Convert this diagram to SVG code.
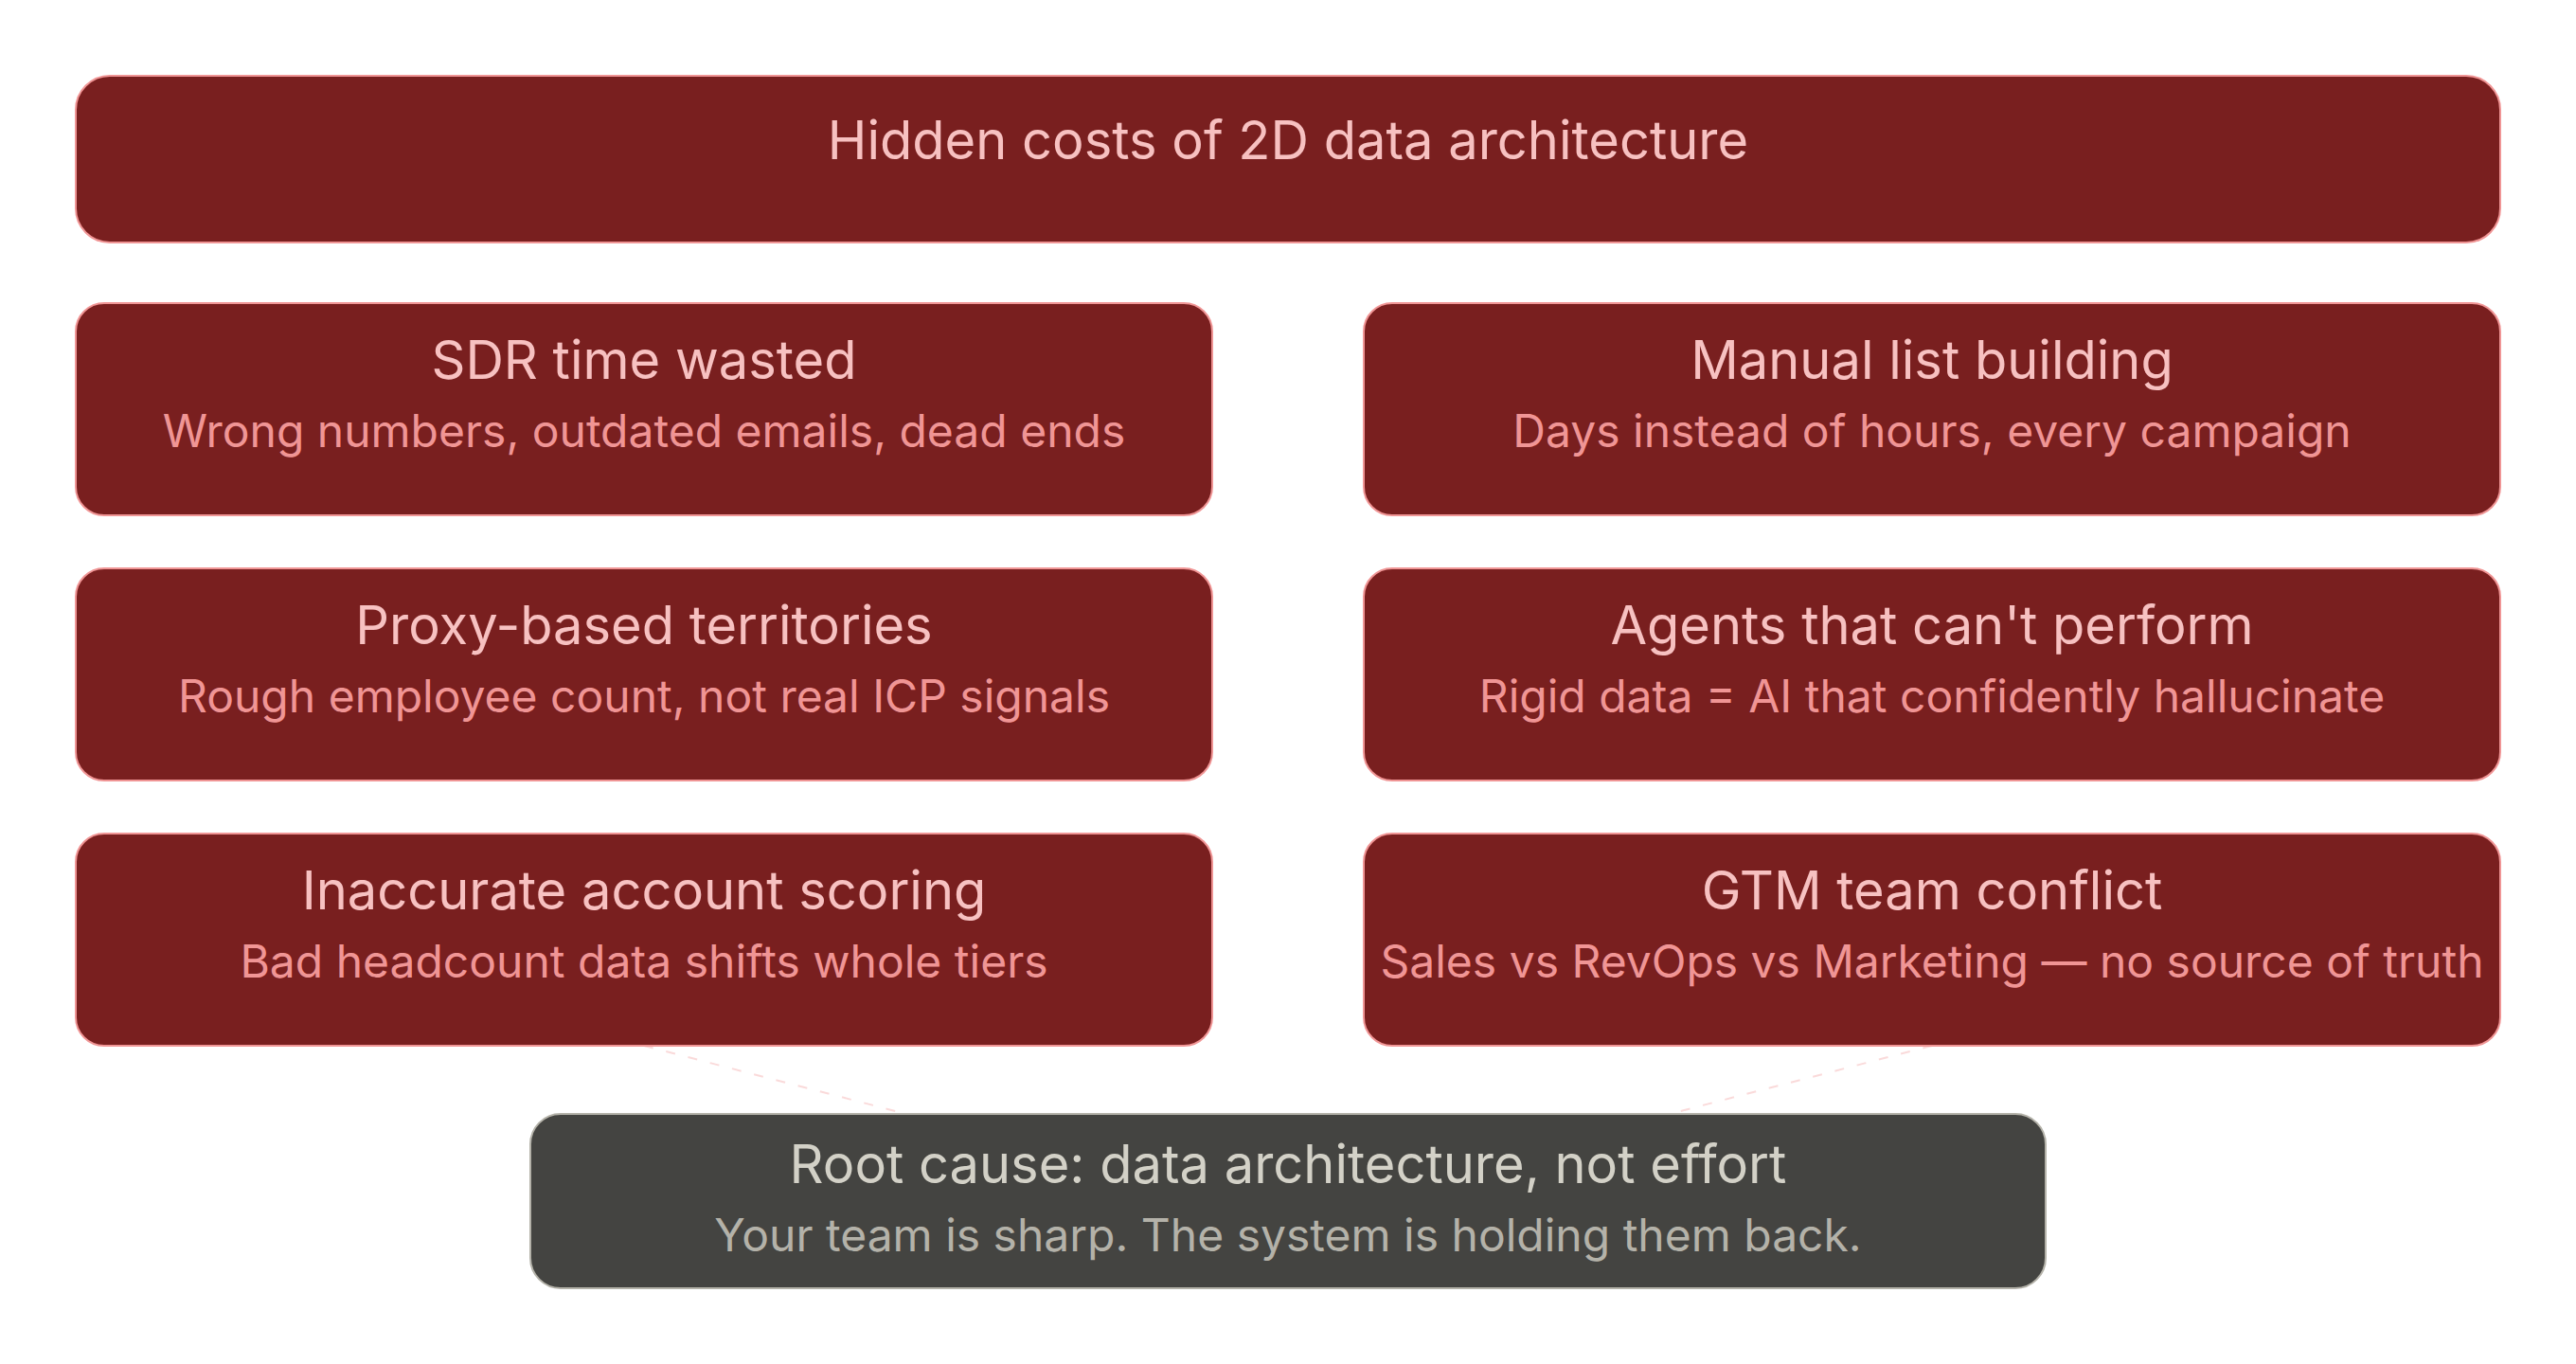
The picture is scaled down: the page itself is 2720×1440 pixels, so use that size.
<svg xmlns="http://www.w3.org/2000/svg" width="2720" height="1440" viewBox="0 0 2720 1440">
<style>
.bg{fill:#ffffff}
.red rect{fill:#791F1F;stroke:#F09595;stroke-width:2}
.gray rect{fill:#444441;stroke:#B4B2A9;stroke-width:2}
text{font-family:Inter,"Noto Sans","Liberation Sans",sans-serif;text-anchor:middle}
.red .t{fill:#F7C1C1;font-size:56px}
.red .s{fill:#F09595;font-size:48px}
.red .h{fill:#F7C1C1;font-size:56px}
.gray .t{fill:#D3D1C7;font-size:56px}
.gray .s{fill:#B4B2A9;font-size:48px}
.conn line{stroke:#F09595;stroke-opacity:0.35;stroke-width:2;stroke-dasharray:10 14;fill:none}
</style>
<rect class="bg" x="0" y="0" width="2720" height="1440"/>
<g id="connectors" class="conn">
<line x1="680" y1="1104" x2="957" y2="1176"/>
<line x1="2040" y1="1104" x2="1763" y2="1176"/>
</g>
<g id="title" class="red">
<rect x="80" y="80" width="2560" height="176" rx="36"/>
<text class="h" x="1360" y="168">Hidden costs of 2D data architecture</text>
</g>
<g id="sdr" class="red">
<rect x="80" y="320" width="1200" height="224" rx="30"/>
<text class="t" x="680" y="400">SDR time wasted</text>
<text class="s" x="680" y="472">Wrong numbers, outdated emails, dead ends</text>
</g>
<g id="manual" class="red">
<rect x="1440" y="320" width="1200" height="224" rx="30"/>
<text class="t" x="2040" y="400">Manual list building</text>
<text class="s" x="2040" y="472">Days instead of hours, every campaign</text>
</g>
<g id="proxy" class="red">
<rect x="80" y="600" width="1200" height="224" rx="30"/>
<text class="t" x="680" y="680">Proxy-based territories</text>
<text class="s" x="680" y="752">Rough employee count, not real ICP signals</text>
</g>
<g id="agents" class="red">
<rect x="1440" y="600" width="1200" height="224" rx="30"/>
<text class="t" x="2040" y="680">Agents that can't perform</text>
<text class="s" x="2040" y="752">Rigid data = AI that confidently hallucinate</text>
</g>
<g id="scoring" class="red">
<rect x="80" y="880" width="1200" height="224" rx="30"/>
<text class="t" x="680" y="960">Inaccurate account scoring</text>
<text class="s" x="680" y="1032">Bad headcount data shifts whole tiers</text>
</g>
<g id="gtm" class="red">
<rect x="1440" y="880" width="1200" height="224" rx="30"/>
<text class="t" x="2040" y="960">GTM team conflict</text>
<text class="s" x="2040" y="1032">Sales vs RevOps vs Marketing — no source of truth</text>
</g>
<g id="root" class="gray">
<rect x="560" y="1176" width="1600" height="184" rx="32"/>
<text class="t" x="1360" y="1249">Root cause: data architecture, not effort</text>
<text class="s" x="1360" y="1321">Your team is sharp. The system is holding them back.</text>
</g>
</svg>
